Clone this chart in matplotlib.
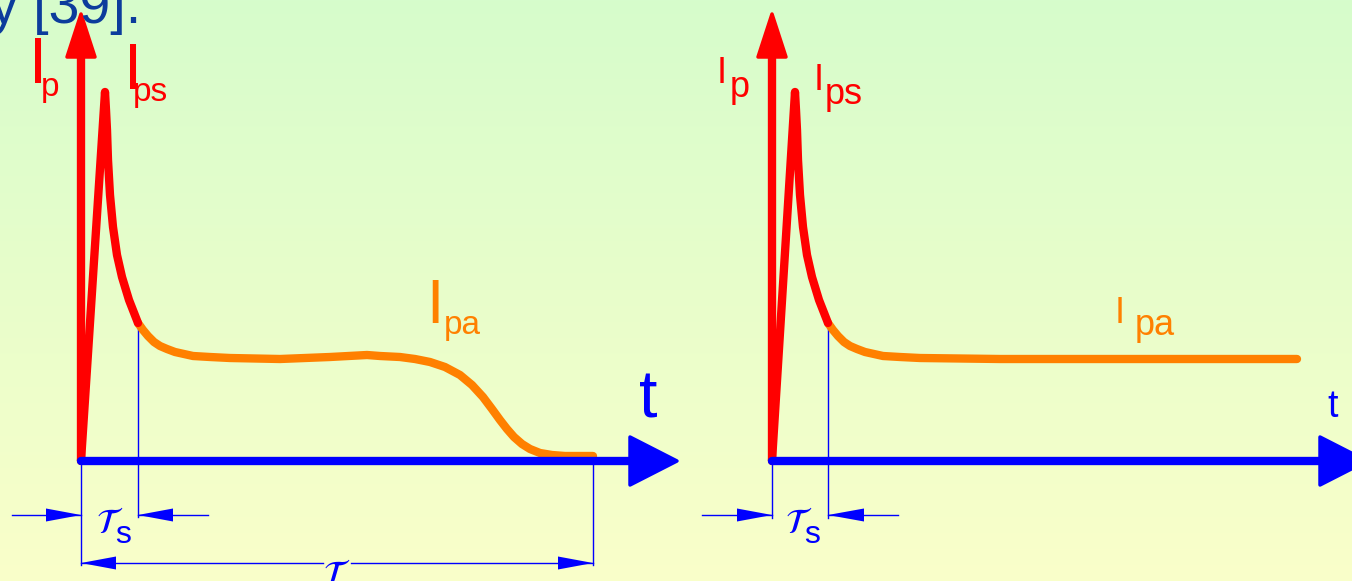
import numpy as np
import matplotlib.pyplot as plt
from matplotlib.patches import Polygon

plt.rcParams['font.family'] = ['Liberation Sans', 'DejaVu Sans']

# curve data, t and I in panel units (origin at the axes crossing)
left_red_t = [0, 0.24, 0.25, 0.26, 0.27, 0.29, 0.32, 0.36, 0.41, 0.48, 0.57]
left_red_i = [0, 3.69, 3.51, 3.31, 3.01, 2.66, 2.34, 2.06, 1.84, 1.61, 1.38]
left_orange_t = [0.57, 0.62, 0.67, 0.73, 0.79, 0.86, 0.94, 1.03, 1.12, 1.29,
                 1.49, 1.99, 2.49, 2.86, 2.99, 3.19, 3.34, 3.49, 3.64, 3.79,
                 3.91, 4.02, 4.11, 4.19, 4.26, 4.33, 4.41, 4.49, 4.59, 4.71,
                 4.84, 5.12]
left_orange_i = [1.38, 1.31, 1.25, 1.19, 1.15, 1.12, 1.09, 1.07, 1.05, 1.04,
                 1.03, 1.02, 1.04, 1.06, 1.05, 1.04, 1.02, 0.99, 0.94, 0.86,
                 0.76, 0.64, 0.52, 0.41, 0.32, 0.24, 0.17, 0.12, 0.08, 0.06,
                 0.05, 0.05]

right_red_t = [0, 0.23, 0.24, 0.25, 0.26, 0.28, 0.31, 0.35, 0.40, 0.47, 0.56]
right_red_i = [0, 3.69, 3.51, 3.31, 3.01, 2.66, 2.34, 2.06, 1.84, 1.61, 1.38]
right_orange_t = [0.56, 0.61, 0.66, 0.72, 0.78, 0.85, 0.93, 1.02, 1.11, 1.28,
                  1.48, 2.28, 3.28, 4.28, 5.25]
right_orange_i = [1.38, 1.31, 1.25, 1.19, 1.15, 1.12, 1.09, 1.07, 1.05, 1.04,
                  1.03, 1.02, 1.02, 1.02, 1.02]

tau_s_left = 0.57     # end of the fast peak
tau_left = 5.12       # end of the pulse
tau_s_right = 0.56

RED = '#ff0000'
ORANGE = '#ff8000'
BLUE = '#0000ff'
LW = 6.0

W, H = 1352, 581
fig = plt.figure(figsize=(W / 100, H / 100), dpi=100)

# background gradient green -> yellow
bg = fig.add_axes([0, 0, 1, 1])
top = np.array([0.84, 0.99, 0.80])
bottom = np.array([0.98, 1.0, 0.79])
g = np.linspace(0, 1, 256)[:, None, None]
bg.imshow(top + (bottom - top) * g, aspect='auto', extent=[0, 1, 0, 1])
bg.axis('off')

fig.text(141 / W, 1 - 23 / H, 'y [39].', ha='right', va='baseline',
         fontsize=40, color='#0c3c9c')


def head(ax, tip, base, hw, color, vertical=False, lw=0):
    if vertical:
        pts = [(tip[0], tip[1]), (tip[0] - hw, base), (tip[0] + hw, base)]
    else:
        pts = [(tip[0], tip[1]), (base, tip[1] - hw), (base, tip[1] + hw)]
    ax.add_patch(Polygon(pts, closed=True, fc=color, ec=color, lw=lw,
                         joinstyle='round', zorder=5))


def dim_arrow(ax, start, tip, y, base):
    ax.plot([start, tip], [y, y], color=BLUE, lw=1.0, zorder=3)
    head(ax, (tip, y), base, 0.065, BLUE)


def panel(ax, red_t, red_i, org_t, org_i, x_tip):
    ax.set_facecolor('none')
    ax.axis('off')
    # I axis
    ax.plot([0, 0], [0, 4.1], color=RED, lw=LW, solid_capstyle='butt', zorder=4)
    head(ax, (0, 4.47), 4.04, 0.14, RED, vertical=True, lw=2.5)
    # curves
    ax.plot(org_t, org_i, color=ORANGE, lw=LW, solid_capstyle='round',
            solid_joinstyle='round', zorder=4)
    ax.plot(red_t, red_i, color=RED, lw=LW, solid_capstyle='round',
            solid_joinstyle='round', zorder=4)
    # t axis
    ax.plot([0, x_tip - 0.1], [0, 0], color=BLUE, lw=LW, solid_capstyle='round', zorder=6)
    head(ax, (x_tip, 0), x_tip - 0.47, 0.24, BLUE, lw=2.5)


def tau_s_label(ax, x):
    ax.text(x, -0.72, r'$\mathcal{T}$', color=BLUE, fontsize=25,
            ha='center', va='baseline')
    ax.text(x + 0.05, -0.82, 's', color=BLUE, fontsize=23,
            ha='left', va='baseline')


# left panel
axl = fig.add_axes([0, 0, 690 / W, 1])
axl.set_xlim(-0.81, 6.09)
axl.set_ylim(-1.20, 4.61)
panel(axl, left_red_t, left_red_i, left_orange_t, left_orange_i, 5.96)

axl.plot([0, 0], [0, -1.04], color=BLUE, lw=1.0)
axl.plot([tau_s_left, tau_s_left], [1.38, -0.56], color=BLUE, lw=1.0)
axl.plot([tau_left, tau_left], [0.05, -1.04], color=BLUE, lw=1.0)
dim_arrow(axl, -0.69, 0, -0.54, -0.35)
dim_arrow(axl, 1.27, tau_s_left, -0.54, tau_s_left + 0.35)
axl.plot([0, 2.42], [-1.02, -1.02], color=BLUE, lw=1.0)
axl.plot([2.70, tau_left], [-1.02, -1.02], color=BLUE, lw=1.0)
head(axl, (0, -1.02), 0.35, 0.065, BLUE)
head(axl, (tau_left, -1.02), tau_left - 0.35, 0.065, BLUE)
tau_s_label(axl, 0.29)
axl.text(2.56, -1.24, r'$\mathcal{T}$', color=BLUE, fontsize=25,
         ha='center', va='baseline')

axl.text(-0.43, 3.78, 'I', color=RED, fontsize=47, ha='center', va='baseline')
axl.text(-0.40, 3.65, 'p', color=RED, fontsize=24, ha='left', va='baseline')
axl.text(0.525, 3.72, 'I', color=RED, fontsize=47, ha='center', va='baseline')
axl.text(0.52, 3.60, 'ps', color=RED, fontsize=24, ha='left', va='baseline')
axl.text(3.54, 1.38, 'I', color=ORANGE, fontsize=45, ha='center', va='baseline')
axl.text(3.63, 1.27, 'pa', color=ORANGE, fontsize=24, ha='left', va='baseline')
axl.text(5.67, 0.44, 't', color=BLUE, fontsize=48, ha='center', va='baseline')

# right panel
axr = fig.add_axes([690 / W, 0, 662 / W, 1])
axr.set_xlim(-0.82, 5.80)
axr.set_ylim(-1.20, 4.61)
panel(axr, right_red_t, right_red_i, right_orange_t, right_orange_i, 5.95)

axr.plot([0, 0], [0, -0.57], color=BLUE, lw=1.0)
axr.plot([tau_s_right, tau_s_right], [1.38, -0.57], color=BLUE, lw=1.0)
dim_arrow(axr, -0.70, 0, -0.54, -0.35)
dim_arrow(axr, 1.26, tau_s_right, -0.54, tau_s_right + 0.36)
tau_s_label(axr, 0.27)

axr.text(-0.50, 3.78, 'I', color=RED, fontsize=26, ha='center', va='baseline')
axr.text(-0.42, 3.64, 'p', color=RED, fontsize=26, ha='left', va='baseline')
axr.text(0.47, 3.71, 'I', color=RED, fontsize=26, ha='center', va='baseline')
axr.text(0.53, 3.57, 'ps', color=RED, fontsize=26, ha='left', va='baseline')
axr.text(3.48, 1.38, 'I', color=ORANGE, fontsize=26, ha='center', va='baseline')
axr.text(3.63, 1.26, 'pa', color=ORANGE, fontsize=26, ha='left', va='baseline')
axr.text(5.61, 0.44, 't', color=BLUE, fontsize=27, ha='center', va='baseline')

fig.savefig('out.png', dpi=100)
